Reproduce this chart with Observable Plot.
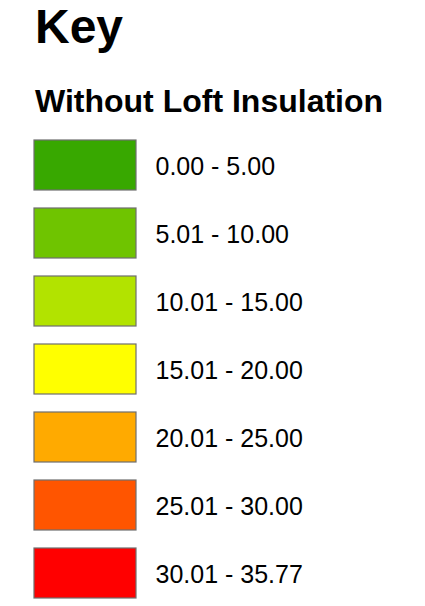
<!DOCTYPE html>
<html>
<head>
<meta charset="utf-8">
<script src="https://cdn.jsdelivr.net/npm/d3@7"></script>
<script src="https://cdn.jsdelivr.net/npm/@observablehq/plot@0.6"></script>
<style>
  html, body { margin: 0; padding: 0; background: #fff; }
  body { width: 425px; height: 606px; overflow: hidden; font-family: "Liberation Sans", Arial, sans-serif; }
  .title { box-sizing: border-box; height: 60px; padding: 3px 0 0 35px; font-size: 48px; line-height: 48px; font-weight: bold; color: #000; }
  .subtitle { box-sizing: border-box; height: 65px; padding: 25px 0 0 35px; font-size: 32px; line-height: 32px; font-weight: bold; color: #000; white-space: nowrap; }
  svg { display: block; }
</style>
</head>
<body>
<div class="title">Key</div>
<div class="subtitle">Without Loft Insulation</div>
<div id="chart"></div>
<script>
const classLabels = ["0.00 - 5.00", "5.01 - 10.00", "10.01 - 15.00", "15.01 - 20.00", "20.01 - 25.00", "25.01 - 30.00", "30.01 - 35.77"];
const classColors = ["#38A800", "#6FC400", "#B2E300", "#FFFF00", "#FFAA00", "#FF5500", "#FF0000"];

const data = classLabels.map((label, i) => ({label, color: classColors[i]}));

const chart = Plot.plot({
  width: 425,
  height: 481,
  marginTop: 12,
  marginBottom: 5,
  marginLeft: 34,
  marginRight: 289,
  style: {fontFamily: "'Liberation Sans', Arial, sans-serif", background: "#fff"},
  x: {domain: [0, 1], axis: null},
  y: {domain: classLabels, axis: null, paddingInner: 0.259, paddingOuter: 0},
  marks: [
    Plot.barX(data, {x1: 0, x2: 1, y: "label", fill: "color", stroke: "#6e6e6e", strokeWidth: 1.2}),
    Plot.text(data, {x: 1, y: "label", text: "label", dx: 19, dy: 1, textAnchor: "start", fontSize: 25, fill: "#000"})
  ]
});
document.getElementById("chart").append(chart);
</script>
</body>
</html>
